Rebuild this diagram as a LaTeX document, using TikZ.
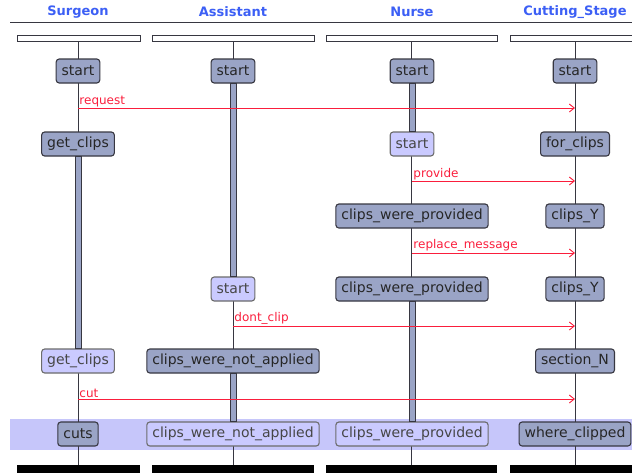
\documentclass[tikz,border=0pt]{standalone}
\usepackage{fontspec}
\setmainfont{DejaVu Sans}
\usetikzlibrary{arrows.meta,calc}

\definecolor{statefill}{RGB}{154,164,198}
\definecolor{idlefill}{RGB}{202,202,255}
\definecolor{bandfill}{RGB}{198,198,250}
\definecolor{msgred}{RGB}{250,30,60}
\definecolor{headblue}{RGB}{60,95,245}
\definecolor{edgegray}{RGB}{55,55,65}

\tikzset{
  state/.style={draw=edgegray, fill=statefill, rounded corners=3pt, line width=1.1pt,
    minimum height=24pt, inner xsep=5.5pt, text=black!85,
    font=\fontsize{14}{16}\selectfont},
  idle/.style={state, fill=idlefill, draw=gray!85!black, text=gray!55!black},
  head/.style={text=headblue, font=\fontsize{13}{15}\selectfont\bfseries},
  topbar/.style={draw=edgegray, fill=white, line width=1pt, minimum height=6pt, inner sep=0pt},
  botbar/.style={fill=black, minimum height=8pt, inner sep=0pt},
  life/.style={edgegray, line width=0.9pt},
  actbar/.style={draw=edgegray, fill=statefill, line width=0.8pt},
  msg/.style={msgred, line width=0.9pt, -{Straight Barb[length=5pt,width=8pt]}},
  msglabel/.style={text=msgred, font=\fontsize{12}{14}\selectfont, above right, inner sep=1pt}
}

\begin{document}
\begin{tikzpicture}[x=1pt,y=-1pt]
\useasboundingbox (0,0) rectangle (632,472);

%%%%%HEADERS%%%%%%%%%
\node[head] (hS) at (78,12) {Surgeon};
\node[head] (hA) at (233,12) {Assistant};
\node[head] (hN) at (412,12) {Nurse};
\node[head] (hC) at (575,12) {Cutting\_Stage};
\draw[edgegray, line width=1pt] (10,22) -- (632,22);

%%%%%LAST STEP BAND%%%%
\fill[bandfill] (10,419) rectangle (632,450);

%%%%%BARS AND LIFELINES%%%
\node[topbar, minimum width=123] (sTop) at (78.5,38) {};
\node[topbar, minimum width=162] (aTop) at (233,38) {};
\node[topbar, minimum width=171] (nTop) at (411.5,38) {};
\node[topbar, minimum width=130] (cTop) at (575,38) {};
\node[botbar, minimum width=123] (sBot) at (78.5,469) {};
\node[botbar, minimum width=162] (aBot) at (233,469) {};
\node[botbar, minimum width=171] (nBot) at (411.5,469) {};
\node[botbar, minimum width=130] (cBot) at (575,469) {};
\draw[life] (sTop) -- (sBot);
\draw[life] (aTop) -- (aBot);
\draw[life] (nTop) -- (nBot);
\draw[life] (cTop) -- (cBot);

%%%%%STATES%%%%%%%%%%
\node[state] (sStart) at (78,71) {start};
\node[state] (aStart) at (233,71) {start};
\node[state] (nStart) at (412,71) {start};
\node[state] (cStart) at (575,71) {start};

\node[state] (sGet) at (78,144) {get\_clips};
\node[idle]  (nStart2) at (412,144) {start};
\node[state] (cFor) at (575,144) {for\_clips};

\node[state] (nProv) at (412,216) {clips\_were\_provided};
\node[state] (cY) at (575,216) {clips\_Y};

\node[idle]  (aStart2) at (233,289) {start};
\node[state] (nProv2) at (412,289) {clips\_were\_provided};
\node[state] (cY2) at (575,289) {clips\_Y};

\node[idle]  (sGet2) at (78,361) {get\_clips};
\node[state] (aNot) at (233,361) {clips\_were\_not\_applied};
\node[state] (cSec) at (575,361) {section\_N};

\node[state] (sCuts) at (78,434) {cuts};
\node[idle]  (aFin) at (233,434) {clips\_were\_not\_applied};
\node[idle]  (nFin) at (412,434) {clips\_were\_provided};
\node[state] (cWhere) at (575,434) {where\_clipped};

%%%%%ACTIVATIONS%%%%%%
\draw[actbar] ($(sGet.south)+(-3,0)$) rectangle ($(sGet2.north)+(3,0)$);
\draw[actbar] ($(aStart.south)+(-3,0)$) rectangle ($(aStart2.north)+(3,0)$);
\draw[actbar] ($(aNot.south)+(-3,0)$) rectangle ($(aFin.north)+(3,0)$);
\draw[actbar] ($(nStart.south)+(-3,0)$) rectangle ($(nStart2.north)+(3,0)$);
\draw[actbar] ($(nProv2.south)+(-3,0)$) rectangle ($(nFin.north)+(3,0)$);

%%%%%MESSAGES%%%%%%%%
\coordinate (mReqA) at (78,108);  \coordinate (mReqB) at (575,108);
\coordinate (mProA) at (412,181); \coordinate (mProB) at (575,181);
\coordinate (mRepA) at (412,253); \coordinate (mRepB) at (575,253);
\coordinate (mDonA) at (233,326); \coordinate (mDonB) at (575,326);
\coordinate (mCutA) at (78,399);  \coordinate (mCutB) at (575,399);

\draw[msg] (mReqA) node[msglabel] {request} -- (mReqB);
\draw[msg] (mProA) node[msglabel] {provide} -- (mProB);
\draw[msg] (mRepA) node[msglabel] {replace\_message} -- (mRepB);
\draw[msg] (mDonA) node[msglabel] {dont\_clip} -- (mDonB);
\draw[msg] (mCutA) node[msglabel] {cut} -- (mCutB);

\end{tikzpicture}
\end{document}
